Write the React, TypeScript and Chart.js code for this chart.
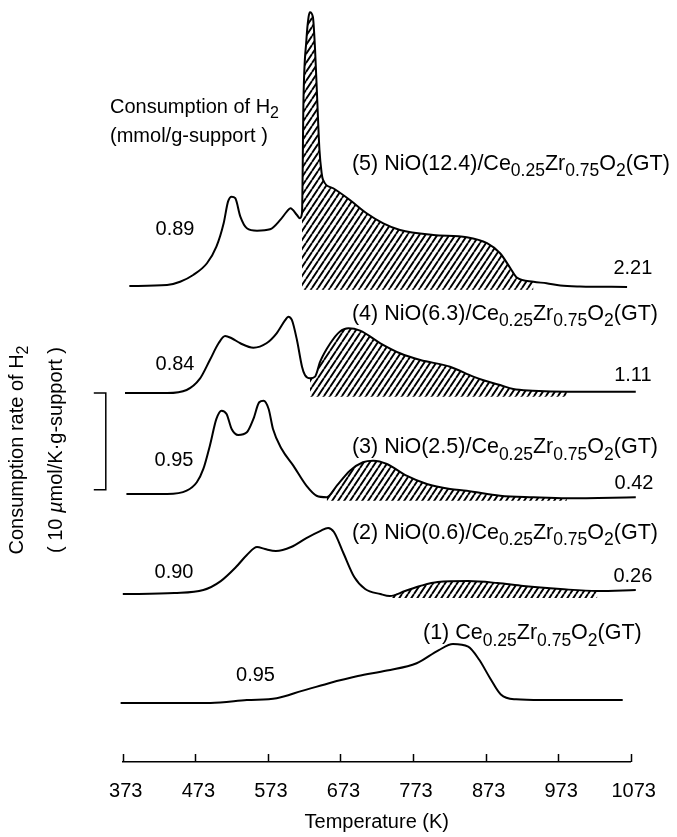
import React, { useEffect, useRef } from "react";
import { Chart, registerables } from "chart.js";

Chart.register(...registerables);

// ---------------- data ----------------
// temperature axis (K)
const TICK_VALUES = [373, 473, 573, 673, 773, 873, 973, 1073];

// H2 consumption rate signals, µmol/(K·g-support)
const T1 = [370, 494, 544, 585, 620, 656, 697, 737, 778, 808, 828, 849, 864, 879, 894, 915, 950, 1062];
const S1 = [0, 0, 0.3, 0.5, 1.25, 2.02, 2.78, 3.35, 4.11, 5.44, 6.09, 5.82, 4.49, 2.59, 0.88, 0.38, 0.3, 0.3];

const T2 = [373, 444, 484, 508, 529, 544, 558, 569, 584, 605, 626, 645, 656, 664, 677, 692, 707, 728, 741, 762, 783, 807, 849, 889, 925, 976, 1027, 1080];
const S2 = [0, 0.1, 0.41, 1.34, 2.79, 4.03, 4.86, 4.65, 4.45, 4.86, 5.79, 6.51, 6.83, 6.41, 4.24, 1.76, 0.52, 0, -0.21, 0.31, 0.83, 1.24, 1.34, 1.14, 0.83, 0.52, 0.31, 0.41];

const T3 = [378, 434, 461, 475, 484, 493, 502, 509, 516, 523, 532, 544, 553, 561, 567, 574, 580, 592, 608, 626, 640, 654, 668, 686, 704, 718, 737, 764, 792, 824, 847, 893, 939, 985, 1080];
const S3 = [0, 0, 0.34, 1.21, 2.59, 5.0, 7.76, 8.61, 8.27, 6.72, 6.1, 6.38, 7.76, 9.48, 9.65, 8.79, 6.72, 4.65, 2.93, 0.86, -0.18, -0.34, 0.86, 2.41, 3.28, 3.44, 3.1, 1.89, 1.03, 0.52, 0.34, -0.18, -0.34, -0.44, -0.34];

const T4 = [376, 434, 461, 479, 493, 505, 514, 523, 535, 553, 571, 585, 597, 601, 606, 613, 620, 624, 631, 638, 645, 659, 672, 684, 700, 728, 755, 783, 824, 856, 869, 893, 911, 938, 985, 1080];
const S4 = [0, 0, 0.31, 1.45, 3.41, 5.14, 5.89, 5.66, 5.14, 4.68, 5.14, 6.17, 7.55, 7.89, 7.55, 5.48, 2.72, 1.86, 1.52, 1.69, 3.24, 5.14, 6.34, 6.69, 6.44, 5.14, 4.11, 3.41, 2.72, 1.69, 1.34, 0.83, 0.41, 0.24, 0.13, 0.13];

const T5 = [382, 434, 452, 470, 489, 502, 512, 518, 523, 528, 535, 544, 558, 576, 590, 599, 604, 613, 617, 620, 622, 626, 629, 631, 635, 638, 641, 644, 647, 649, 663, 686, 709, 732, 755, 801, 847, 875, 893, 907, 916, 939, 957, 976, 1003, 1068];
const S5 = [0, 0.1, 0.44, 1.14, 2.35, 4.06, 6.48, 8.72, 9.23, 9.07, 7.17, 5.97, 5.72, 5.86, 6.83, 7.68, 8.04, 7.34, 7.0, 7.55, 19.2, 25.4, 27.8, 28.3, 27.8, 24.4, 19.2, 14.1, 11.7, 10.96, 10.1, 8.89, 7.52, 6.48, 5.79, 5.27, 5.04, 4.42, 3.38, 1.86, 0.88, 0.44, 0.28, 0.05, -0.05, -0.1];

const TEMPS = [T1, T2, T3, T4, T5];
const SIGNALS = [S1, S2, S3, S4, S5];

// vertical stacking offsets of the five traces (same units)
const OFFSETS = [6.1, 17.36, 27.7, 38.14, 49.2];

// hatched (high-temperature) region: temperature range and lower edge
const HATCH_RANGE: (number[] | null)[] = [null, [741, 1027], [654, 985], [631, 985], [620, 939]];
const HATCH_BOTTOM = [0, -0.4, -0.7, -0.4, -0.4];

// text content
const SAMPLE_PREFIX = ["(1) ", "(2) NiO(0.6)/", "(3) NiO(2.5)/", "(4) NiO(6.3)/", "(5) NiO(12.4)/"];
const TOTAL_CONSUMPTION = ["0.95", "0.90", "0.95", "0.84", "0.89"];
const HIGH_T_CONSUMPTION = ["", "0.26", "0.42", "1.11", "2.21"];
const X_TITLE = "Temperature (K)";
const SCALE_BAR = 10; // µmol/(K·g-support)

// ---------------- layout (annotation anchors in data units) ----------------
const SAMPLE_LABEL_POS = [[786.7, 12.7], [688.8, 23.1], [688.8, 31.9], [688.8, 45.7], [688.8, 61.19]];
const TOTAL_LABEL_POS = [[555.9, 9.1], [443.6, 19.74], [443.6, 31.32], [444.9, 41.24], [444.9, 55.2]];
const HIGH_T_LABEL_POS = [null, [1076, 19.33], [1077.5, 28.94], [1076, 40.1], [1076, 51.16]];
const CONSUMPTION_TITLE_POS = [[355.4, 67.08], [355.4, 64.08]];
const Y_MAX = 78.76;

const FONT = '"Liberation Sans", Arial, Helvetica, sans-serif';
const fnt = (px: number, it = false) => `${it ? "italic " : ""}${px}px ${FONT}`;

type Part = { t: string; sub?: boolean; it?: boolean };

const formula = (prefix: string): Part[] => [
  { t: prefix + "Ce" },
  { t: "0.25", sub: true },
  { t: "Zr" },
  { t: "0.75", sub: true },
  { t: "O" },
  { t: "2", sub: true },
  { t: "(GT)" },
];

function partsWidth(ctx: CanvasRenderingContext2D, parts: Part[], main: number, sub: number) {
  let w = 0;
  for (const p of parts) {
    ctx.font = fnt(p.sub ? sub : main, p.it);
    w += ctx.measureText(p.t).width;
  }
  return w;
}

function drawParts(
  ctx: CanvasRenderingContext2D,
  parts: Part[],
  x: number,
  y: number,
  main: number,
  sub: number,
  drop: number,
  align: "left" | "center"
) {
  let cx = align === "center" ? x - partsWidth(ctx, parts, main, sub) / 2 : x;
  ctx.textAlign = "left";
  ctx.textBaseline = "alphabetic";
  for (const p of parts) {
    ctx.font = fnt(p.sub ? sub : main, p.it);
    ctx.fillText(p.t, cx, p.sub ? y + drop : y);
    cx += ctx.measureText(p.t).width;
  }
}

function makeHatch(): CanvasPattern | string {
  const w = 6;
  const h = 9;
  const c = document.createElement("canvas");
  c.width = w;
  c.height = h;
  const g = c.getContext("2d");
  if (!g) return "rgba(0,0,0,0.4)";
  g.strokeStyle = "#000";
  g.lineWidth = 1.9;
  g.beginPath();
  for (const dx of [-w, 0, w]) {
    g.moveTo(dx, h);
    g.lineTo(dx + w, 0);
  }
  g.stroke();
  return g.createPattern(c, "repeat") || "rgba(0,0,0,0.4)";
}

const annotationPlugin = {
  id: "tprAnnotations",
  afterDraw(chart: any) {
    const ctx: CanvasRenderingContext2D = chart.ctx;
    const xs = chart.scales.x;
    const ys = chart.scales.y;
    const area = chart.chartArea;
    const px = (t: number) => xs.getPixelForValue(t);
    const py = (v: number) => ys.getPixelForValue(v);
    ctx.save();
    ctx.fillStyle = "#000";
    ctx.strokeStyle = "#000";

    // inward tick marks
    ctx.lineWidth = 1.5;
    ctx.beginPath();
    for (const t of TICK_VALUES) {
      const x = Math.round(px(t)) + 0.5;
      ctx.moveTo(x, area.bottom);
      ctx.lineTo(x, area.bottom - 8);
    }
    ctx.stroke();

    // scale bar
    const barTop = py(OFFSETS[3]);
    const barBot = py(OFFSETS[3] - SCALE_BAR);
    const bx = area.left - 17;
    ctx.lineWidth = 1.5;
    ctx.beginPath();
    ctx.moveTo(bx - 12, barTop);
    ctx.lineTo(bx, barTop);
    ctx.lineTo(bx, barBot);
    ctx.lineTo(bx - 12, barBot);
    ctx.stroke();

    // sample labels
    SAMPLE_PREFIX.forEach((pre, i) => {
      const [t, v] = SAMPLE_LABEL_POS[i];
      drawParts(ctx, formula(pre), px(t), py(v), 21.5, 17.5, 6.5, "left");
    });

    // consumption values
    TOTAL_CONSUMPTION.forEach((s, i) => {
      const [t, v] = TOTAL_LABEL_POS[i];
      drawParts(ctx, [{ t: s }], px(t), py(v) + 7, 20, 16, 0, "center");
    });
    HIGH_T_CONSUMPTION.forEach((s, i) => {
      const pos = HIGH_T_LABEL_POS[i];
      if (!s || !pos) return;
      drawParts(ctx, [{ t: s }], px(pos[0]), py(pos[1]) + 7, 20, 16, 0, "center");
    });

    // "Consumption of H2 (mmol/g-support)"
    drawParts(
      ctx,
      [{ t: "Consumption of H" }, { t: "2", sub: true }],
      px(CONSUMPTION_TITLE_POS[0][0]),
      py(CONSUMPTION_TITLE_POS[0][1]),
      20,
      16,
      5,
      "left"
    );
    drawParts(
      ctx,
      [{ t: "(mmol/g-support )" }],
      px(CONSUMPTION_TITLE_POS[1][0]),
      py(CONSUMPTION_TITLE_POS[1][1]),
      20,
      16,
      5,
      "left"
    );

    // rotated y title
    const cy = py(32.25);
    const lines: [Part[], number][] = [
      [[{ t: "Consumption rate of H" }, { t: "2", sub: true }], area.left - 100],
      [[{ t: "( 10 " }, { t: "µ", it: true }, { t: "mol/K·g-support )" }], area.left - 61],
    ];
    for (const [parts, bxl] of lines) {
      ctx.save();
      ctx.translate(bxl, cy);
      ctx.rotate(-Math.PI / 2);
      drawParts(ctx, parts, 0, 0, 20, 16, 5, "center");
      ctx.restore();
    }

    ctx.restore();
  },
};

export default function App() {
  const ref = useRef<HTMLCanvasElement | null>(null);

  useEffect(() => {
    const canvas = ref.current;
    if (!canvas) return;
    Chart.defaults.font.family = FONT;
    const hatch = makeHatch();

    const curveSets = TEMPS.map((T, k) => ({
      label: SAMPLE_PREFIX[k] + "Ce0.25Zr0.75O2(GT)",
      data: T.map((t, i) => ({ x: t, y: OFFSETS[k] + SIGNALS[k][i] })),
      borderColor: "#000",
      borderWidth: 2,
      pointRadius: 0,
      cubicInterpolationMode: "monotone" as const,
      fill: false,
      clip: false as const,
      order: 0,
    }));

    const hatchSets: any[] = [];
    HATCH_RANGE.forEach((r, k) => {
      if (!r) return;
      const T = TEMPS[k];
      const pts = T.map((t, i) => ({ x: t, y: OFFSETS[k] + SIGNALS[k][i] })).filter(
        (p) => p.x >= r[0] && p.x <= r[1]
      );
      hatchSets.push({
        label: "hatch" + k,
        data: pts,
        borderWidth: 0,
        borderColor: "rgba(0,0,0,0)",
        backgroundColor: hatch,
        pointRadius: 0,
        cubicInterpolationMode: "monotone" as const,
        fill: { value: OFFSETS[k] + HATCH_BOTTOM[k] },
        order: 1,
      });
    });

    const chart = new Chart(canvas, {
      type: "line",
      data: { datasets: [...curveSets, ...hatchSets] as any },
      options: {
        responsive: false,
        animation: false,
        events: [],
        layout: { padding: { left: 122.8, right: 46.3, top: 0, bottom: 0 } },
        plugins: { legend: { display: false }, tooltip: { enabled: false } },
        scales: {
          x: {
            type: "linear",
            min: 373,
            max: 1073,
            afterBuildTicks: (s: any) => {
              s.ticks = TICK_VALUES.map((v) => ({ value: v }));
            },
            afterFit: (s: any) => {
              s.height = 75;
            },
            grid: { display: false, drawTicks: false },
            border: { display: true, color: "#000", width: 1.5 },
            ticks: {
              color: "#000",
              font: { size: 20, family: FONT },
              padding: 17,
              maxRotation: 0,
              autoSkip: false,
              labelOffset: 3,
              callback: (v: any) => String(v),
            },
            title: {
              display: true,
              text: X_TITLE,
              color: "#000",
              font: { size: 20, family: FONT },
              padding: { top: 0, bottom: 3 },
            },
          },
          y: { type: "linear", display: false, min: 0, max: Y_MAX },
        },
      },
      plugins: [annotationPlugin],
    });
    return () => chart.destroy();
  }, []);

  return (
    <div style={{ position: "fixed", left: 0, top: 0, width: 677, height: 837, background: "#fff" }}>
      <canvas ref={ref} width={677} height={837} style={{ display: "block" }} />
    </div>
  );
}
